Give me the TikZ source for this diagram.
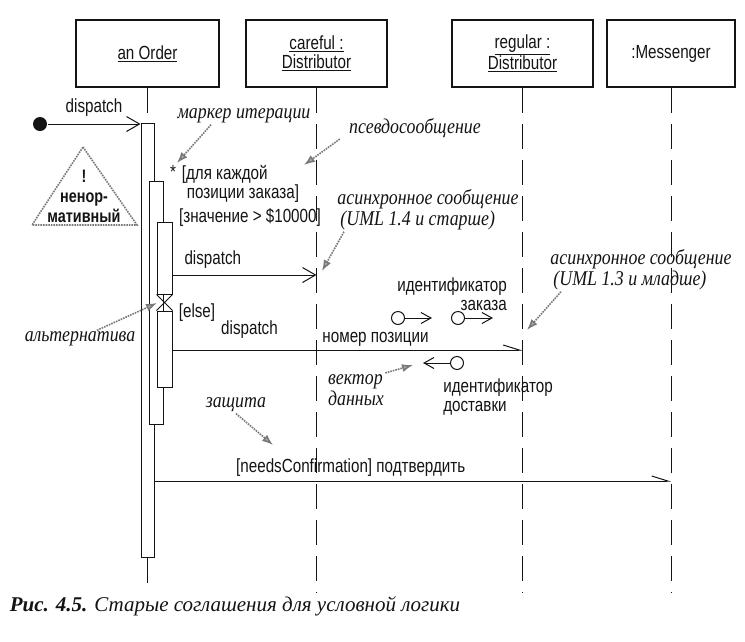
\documentclass[tikz,border=0pt]{standalone}
\usepackage{fontspec}
\setmainfont[FakeStretch=0.8]{Liberation Sans}
\newfontfamily\notefont[FakeStretch=0.85]{Liberation Serif}
\newfontfamily\capfont{Liberation Serif}
\usetikzlibrary{positioning, arrows.meta}
\definecolor{ink}{RGB}{20,20,20}
\definecolor{hint}{RGB}{120,120,120}

\begin{document}
\begin{tikzpicture}[x=1pt, y=-1pt, >={Straight Barb[length=13pt, width=15pt]}, color=ink, line width=1pt,
    every node/.style={font=\fontsize{19}{19}\selectfont},
    head/.style={draw, rectangle, fill=white, minimum height=67pt, align=center, line width=1.3pt},
    lifeline/.style={dash pattern=on 25pt off 11pt},
    bar/.style={draw, rectangle, fill=white, inner sep=0pt},
    note/.style={font=\fontsize{21}{21}\selectfont\notefont\itshape, align=left, inner sep=1pt},
    pointer/.style={draw=hint, densely dotted, line width=1.6pt, -{Latex[length=11pt, width=8pt, fill=hint!60]}},
    token/.style={draw, circle, fill=white, minimum size=13pt, inner sep=0pt},
    tok/.style={-{Straight Barb[length=10pt, width=11pt]}},
    half/.style={-{Straight Barb[left, length=16pt, width=10pt]}}]
  \useasboundingbox[fill=white] (0,0) rectangle (745,641);

  \node[head, minimum width=143pt] (order) at (147.5,53.5) {\underline{an Order}};
  \node[head, minimum width=141pt] (careful) at (316.5,53.5) {\underline{careful :}\\\underline{Distributor}};
  \node[head, minimum width=141pt] (regular) at (522.5,53.5) {\underline{regular :}\\\underline{Distributor}};
  \node[head, minimum width=128pt] (messenger) at (671,53.5) {:Messenger};
  \foreach \h in {order, careful, regular, messenger}
    \coordinate (\h-end) at (\h.south |- 0,592);
  \foreach \h in {careful, regular, messenger}
    \draw[lifeline] (\h.south) -- (\h-end);

  \node[bar, minimum width=13pt, minimum height=434pt] (barA) at (147.5,340) {};
  \draw[lifeline] (order.south) -- (barA.north);
  \draw[lifeline] (barA.south) -- (order-end);
  \node[bar, minimum width=14pt, minimum height=243pt] (barB) at (156,302.5) {};
  \node[bar, minimum width=15pt, minimum height=72pt] (barC) at (164.5,258) {};
  \node[bar, minimum width=15pt, minimum height=76pt] (barD) at (164.5,349) {};
  \draw (barC.south west) -- (barD.north east) (barC.south east) -- (barD.north west);

  \node[circle, fill=ink, minimum size=14pt, inner sep=0pt] (found) at (40,124) {};
  \draw[->] (found) -- (found -| barA.west) node[midway, above=4pt] {dispatch};

  \node (star) at (173,172) {*};
  \node[anchor=west, align=left] (iterGuard) at (178,184) {[для каждой\\\hspace*{5pt}позиции заказа]};
  \node (valueGuard) at (250,217) {[значение > \$10000]};
  \coordinate (m1) at (careful.south |- 0,275);
  \draw[->] (barC.east |- m1) -- (m1) node[pos=0.28, above=3pt] {dispatch};

  \node (elseGuard) at (197,313) {[else]};
  \coordinate (m2) at (regular.south |- 0,350);
  \draw[half] (barD.east |- m2) -- (m2) node[pos=0.22, above=8pt] {dispatch} node[pos=0.58, above=0pt] {номер позиции};

  \coordinate (m3) at (messenger.south |- 0,481);
  \draw[half] (barA.east |- m3) -- (m3) node[pos=0.38, above=1pt] {[needsConfirmation] подтвердить};

  \node[token] (tokOrder) at (398,318) {};
  \coordinate[right=27pt of tokOrder] (tokOrderTip);
  \draw[tok] (tokOrder) -- (tokOrderTip);
  \node[token] (tokOrder2) at (458,318) {};
  \coordinate[right=28pt of tokOrder2] (tokOrder2Tip);
  \draw[tok] (tokOrder2) -- (tokOrder2Tip);
  \node[token] (tokShip) at (457,363) {};
  \coordinate[left=27pt of tokShip] (tokShipTip);
  \draw[tok] (tokShip) -- (tokShipTip);
  \node[align=right] (orderId) at (452,294) {идентификатор\\заказа};
  \node[align=left] (shipId) at (498,397) {идентификатор\\доставки};

  \node[font=\fontsize{18}{20}\selectfont\bfseries, align=center] (warn) at (84,196) {!\\ненор-\\мативный};
  \draw[draw=hint, densely dotted, line width=1.6pt] (83,147) -- (137,225) -- (32,225) -- cycle;

  \node[note] (iterNote) at (244,116) {маркер итерации};
  \coordinate (iterTip) at (177,163);
  \draw[pointer] ([xshift=35pt]iterNote.south west) -- (iterTip);
  \node[note] (pseudoNote) at (415,128) {псевдосообщение};
  \coordinate (pseudoTip) at (304,165);
  \draw[pointer] ([xshift=-8pt]pseudoNote.south west) -- (pseudoTip);
  \node[note] (asyncOld) at (428,210) {асинхронное сообщение\\\hspace*{3pt}(UML 1.4 и старше)};
  \coordinate (asyncOldTip) at (322,271);
  \draw[pointer] ([xshift=8pt]asyncOld.south west) -- (asyncOldTip);
  \node[note] (asyncNew) at (641,270) {асинхронное сообщение\\\hspace*{3pt}(UML 1.3 и младше)};
  \coordinate (asyncNewTip) at (527,330);
  \draw[pointer] ([xshift=12pt]asyncNew.south west) -- (asyncNewTip);
  \node[note] (altNote) at (80,339) {альтернатива};
  \coordinate (altTip) at (157,303);
  \draw[pointer] ([xshift=17pt]altNote.north) -- (altTip);
  \node[note] (vecNote) at (356,390) {вектор\\данных};
  \coordinate (vecTip) at (413,365);
  \draw[pointer] (vecNote.north east) -- (vecTip);
  \node[note] (guardNote) at (236,405) {защита};
  \coordinate (guardTip) at (273,445);
  \draw[pointer] (guardNote.south) -- (guardTip);

  \node[anchor=west, font=\fontsize{21}{22}\selectfont\capfont\itshape] (caption) at (6,606) {\bfseries Рис. 4.5.\mdseries{} Старые соглашения для условной логики};
\end{tikzpicture}
\end{document}
